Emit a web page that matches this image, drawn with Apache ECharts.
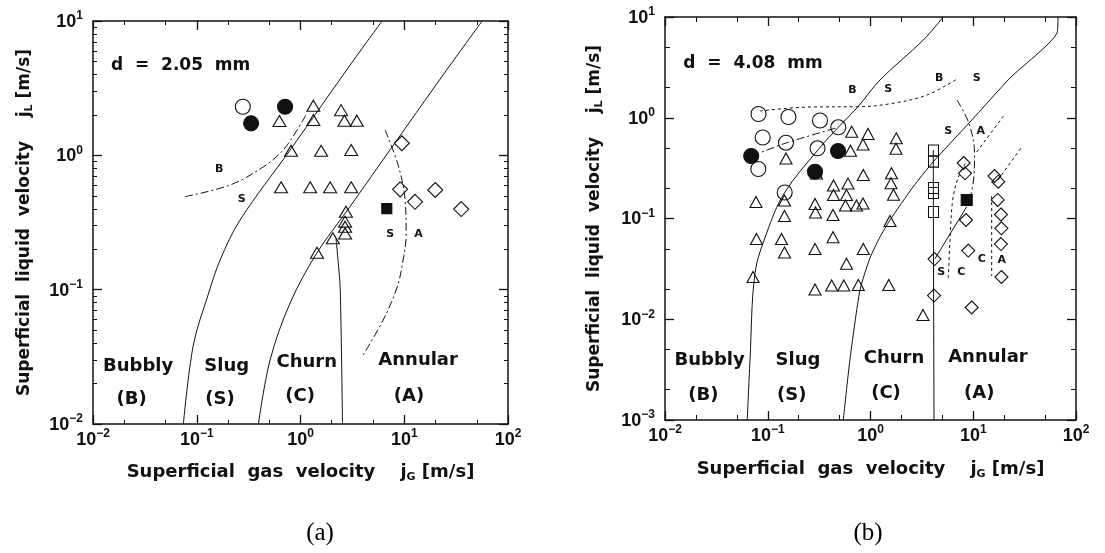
<!DOCTYPE html>
<html>
<head>
<meta charset="utf-8">
<script src="https://cdn.jsdelivr.net/npm/echarts@6/dist/echarts.min.js"></script>
<style>
  html, body { margin: 0; padding: 0; background: #fff; }
  #chart { width: 1105px; height: 553px; }
</style>
</head>
<body>
<div id="chart"></div>
<script>
// ---------------- Panel (a): d = 2.05 mm ----------------
const a_diameter = 'd  =  2.05  mm';
const a_diameterAt = [0.0149, 4.65];

const a_openCircles = [[0.278, 2.30]];
const a_filledCircles = [[0.334, 1.73], [0.71, 2.30]];
const a_triangles = [
  [1.33, 2.34], [0.626, 1.80], [1.33, 1.83], [2.46, 2.17], [2.65, 1.81], [3.49, 1.81],
  [0.81, 1.08], [1.58, 1.08], [3.08, 1.095],
  [0.65, 0.578], [1.24, 0.578], [1.93, 0.578], [3.08, 0.578],
  [2.74, 0.380], [2.69, 0.321], [2.69, 0.294], [2.69, 0.262], [2.05, 0.241], [1.44, 0.188]
];
const a_diamonds = [[9.48, 1.23], [9.13, 0.558], [12.7, 0.451], [19.9, 0.552], [35.4, 0.398]];
const a_filledSquares = [[6.79, 0.401]];

// transition boundaries (solid)
const a_bubblySlug = [[0.0743, 0.01], [0.0927, 0.0387], [0.1285, 0.0912], [0.1678, 0.166], [0.2616, 0.330], [0.794, 1.095], [3.21, 5.04], [6.12, 10]];
const a_slugChurn = [[0.393, 0.01], [0.509, 0.0299], [0.794, 0.0795], [1.436, 0.1873], [2.796, 0.3847], [22.2, 3.70], [56.4, 10]];
const a_churnAnnular = [[2.20, 0.24], [2.41, 0.1045], [2.54, 0.01]];
// observed boundaries (dash-dot)
const a_obsBS = [[0.0771, 0.493], [0.2094, 0.601], [0.4358, 0.818], [0.680, 1.095], [0.927, 1.543], [1.158, 2.065]];
const a_obsSA = [[6.54, 1.543], [8.73, 0.847], [10.2, 0.464], [10.43, 0.255], [9.75, 0.166], [8.54, 0.1045], [6.26, 0.0594], [4.01, 0.0326]];

const a_tags = ['B', 'S', 'S', 'A'];
const a_tagAt = [[0.165, 0.791], [0.2718, 0.470], [7.31, 0.2594], [13.7, 0.2594]];
const a_regions = ['Bubbly', '(B)', 'Slug', '(S)', 'Churn', '(C)', 'Annular', '(A)'];
const a_regionAt = [[0.0272, 0.027], [0.0236, 0.0152], [0.1947, 0.027], [0.1678, 0.0152], [1.15, 0.0286], [0.991, 0.01614], [13.6, 0.0299], [11.1, 0.01614]];

// ---------------- Panel (b): d = 4.08 mm ----------------
const b_diameter = 'd  =  4.08  mm';
const b_diameterAt = [0.01507, 3.47];

const b_openCircles = [
  [0.0813, 1.09], [0.159, 1.017], [0.3225, 0.939], [0.486, 0.804],
  [0.0893, 0.637], [0.1505, 0.5654], [0.305, 0.4975], [0.0809, 0.31], [0.1462, 0.181]
];
const b_filledCircles = [[0.069, 0.417], [0.483, 0.4677], [0.2884, 0.2914]];
const b_triangles = [
  [0.0768, 0.1458], [0.1456, 0.151], [0.1505, 0.394], [0.0777, 0.0626], [0.1361, 0.0626],
  [0.1456, 0.1059], [0.1456, 0.046], [0.0719, 0.02627], [0.2982, 0.2797], [0.2884, 0.1393],
  [0.2916, 0.1147], [0.2884, 0.0498], [0.2884, 0.01974], [0.4365, 0.2127], [0.604, 0.2225],
  [0.4365, 0.1711], [0.584, 0.1711], [0.571, 0.1346], [0.7307, 0.1346], [0.8453, 0.1409],
  [0.4316, 0.1083], [0.4316, 0.0651], [0.851, 0.2703], [0.851, 0.0498], [0.584, 0.0356],
  [0.419, 0.02163], [0.5497, 0.02163], [0.761, 0.02188], [0.656, 0.727], [0.9456, 0.69],
  [0.8453, 0.5427], [0.639, 0.471], [1.783, 0.625], [1.771, 0.4918], [1.601, 0.281],
  [1.583, 0.2236], [1.674, 0.1722], [1.548, 0.0945], [1.507, 0.02188], [3.243, 0.01102]
];
const b_squares = [[4.104, 0.473], [4.104, 0.3663], [4.104, 0.2008], [4.104, 0.179], [4.104, 0.116]];
const b_filledSquares = [[8.64, 0.1527]];
const b_diamonds = [
  [8.07, 0.3556], [8.31, 0.281], [8.50, 0.0966], [8.95, 0.0481], [4.197, 0.0396], [4.15, 0.0172],
  [9.66, 0.01308], [16.1, 0.2642], [17.5, 0.2318], [17.3, 0.1527], [18.6, 0.1096], [18.8, 0.0799],
  [18.6, 0.0558], [18.8, 0.02627]
];

// transition boundaries (solid)
const b_bubblySlug = [[0.0632, 0.001], [0.0672, 0.00394], [0.0752, 0.0288], [0.0977, 0.0718], [0.145, 0.179], [0.3175, 0.4975], [0.486, 0.804], [0.7557, 1.287], [1.237, 2.37], [3.265, 5.91], [5.11, 10]];
const b_slugChurn = [[0.5436, 0.001], [0.630, 0.00394], [0.790, 0.0195], [0.989, 0.0406], [1.237, 0.0655], [1.548, 0.0966], [2.592, 0.2055], [4.086, 0.3663], [9.30, 0.9074], [22.8, 2.48], [65.3, 6.94], [66.8, 10]];
const b_churnAnnular = [[4.086, 0.4785], [4.10, 0.05], [4.15, 0.001]];
const b_slugAnnularSolid = [[4.243, 0.0399], [8.64, 0.131]];
const b_circleLink = [[0.0698, 0.417], [0.1505, 0.5615], [0.486, 0.804]];
// observed boundaries (dash-dot)
const b_obsSA = [[6.95, 1.50], [9.09, 0.877], [10.29, 0.4437], [10.06, 0.241], [9.09, 0.1425]];
// observed boundaries (dotted)
const b_obsBS = [[0.0841, 1.167], [0.2577, 1.279], [0.7557, 1.287], [1.656, 1.391], [3.547, 1.682], [6.95, 2.42]];
const b_obsSC = [[5.72, 0.02567], [5.94, 0.0612], [6.31, 0.1527], [7.11, 0.2523], [8.50, 0.3638]];
const b_obsCA = [[15.12, 0.1672], [15.12, 0.0269]];
const b_obsStub1 = [[10.8, 0.457], [19.6, 1.034]];
const b_obsStub2 = [[17.4, 0.241], [29.2, 0.5011]];

const b_tags = ['B', 'S', 'B', 'S', 'S', 'A', 'S', 'C', 'C', 'A'];
const b_tagAt = [[0.668, 1.873], [1.490, 1.916], [4.67, 2.464], [10.8, 2.464], [5.72, 0.7437], [11.8, 0.7437], [4.875, 0.0291], [7.63, 0.0294], [12.08, 0.0394], [18.9, 0.0383]];
const b_regions = ['Bubbly', '(B)', 'Slug', '(S)', 'Churn', '(C)', 'Annular', '(A)'];
const b_regionAt = [[0.0272, 0.00394], [0.0236, 0.00177], [0.197, 0.00394], [0.171, 0.00177], [1.693, 0.0041], [1.415, 0.00184], [13.9, 0.00419], [11.45, 0.00184]];

// axis ranges and minor tick positions
const X_RANGE = [0.01, 100];
const A_Y_RANGE = [0.01, 10];
const B_Y_RANGE = [0.001, 10];
const minor25 = (lo, hi) => { const v = []; for (let d = lo; d < hi; d *= 10) { v.push(2 * d, 5 * d); } return v; };
const minorAll = (lo, hi) => { const v = []; for (let d = lo; d < hi; d *= 10) { for (let k = 2; k <= 9; k++) v.push(+(k * d).toPrecision(3)); } return v; };

// ---------------- styling helpers ----------------
const INK = '#111111';
const SANS = 'DejaVu Sans';
const NUM = 'Liberation Sans';

function powLabel(v) {
  const e = Math.round(Math.log10(v));
  return '{b|10}{e|' + (e < 0 ? '\u2212' + (-e) : String(e)) + '}';
}
const tickRich = {
  b: { fontFamily: NUM, fontWeight: 'bold', fontSize: 18, color: INK, verticalAlign: 'bottom', lineHeight: 20 },
  e: { fontFamily: NUM, fontWeight: 'bold', fontSize: 12, color: INK, verticalAlign: 'bottom', lineHeight: 12, padding: [0, 0, 9, 0] }
};
function nameRich(size) {
  return {
    n: { fontFamily: SANS, fontWeight: 'bold', fontSize: size, color: INK, verticalAlign: 'bottom', padding: [0, 0, 2, 0] },
    s: { fontFamily: SANS, fontWeight: 'bold', fontSize: 11, color: INK, verticalAlign: 'bottom' }
  };
}
const X_NAME = '{n|Superficial  gas  velocity    j}{s|G}{n| [m/s]}';
const Y_NAME = '{n|Superficial  liquid  velocity    j}{s|L}{n| [m/s]}';

function axisSet(dim, grid, range, minorVals, minorLen, name, nameGap, nameSize) {
  const base = {
    type: 'log', logBase: 10, min: range[0], max: range[1], interval: 1, gridIndex: grid,
    splitLine: { show: false }, minorTick: { show: false },
    axisLine: { show: true, onZero: false, lineStyle: { color: INK, width: 1.5 } }
  };
  const major = { show: true, inside: true, length: 9, lineStyle: { color: INK, width: 1.3 } };
  const minor = { show: true, inside: true, length: minorLen, customValues: minorVals, lineStyle: { color: INK, width: 1 } };
  const near = dim === 'x' ? 'bottom' : 'left';
  const far = dim === 'x' ? 'top' : 'right';
  return [
    Object.assign({}, base, {
      position: near, axisTick: major,
      axisLabel: { show: true, margin: dim === 'x' ? 5 : 10, formatter: powLabel, rich: tickRich },
      name: name, nameLocation: 'middle', nameGap: nameGap, nameRotate: dim === 'x' ? 0 : 90,
      nameTextStyle: { rich: nameRich(nameSize) }
    }),
    Object.assign({}, base, { position: near, axisLine: { show: false }, axisTick: minor, axisLabel: { show: false } }),
    Object.assign({}, base, { position: far, axisTick: major, axisLabel: { show: false } }),
    Object.assign({}, base, { position: far, axisLine: { show: false }, axisTick: minor, axisLabel: { show: false } })
  ];
}

const hollow = 'rgba(255,255,255,0)';
function marks(ax, data, symbol, size, filled) {
  return {
    type: 'scatter', xAxisIndex: ax, yAxisIndex: ax, data: data, symbol: symbol, symbolSize: size,
    itemStyle: { color: filled ? INK : hollow, borderColor: INK, borderWidth: 1.1, opacity: 1 },
    z: 3, silent: true, animation: false
  };
}
function curve(ax, data, dash, smooth) {
  return {
    type: 'line', xAxisIndex: ax, yAxisIndex: ax, data: data, showSymbol: false, symbol: 'none',
    smooth: smooth === undefined ? 0.35 : smooth,
    lineStyle: { color: INK, width: 1, type: dash || 'solid', opacity: 1 },
    z: 4, silent: true, animation: false
  };
}
function texts(ax, names, at, style) {
  return {
    type: 'scatter', xAxisIndex: ax, yAxisIndex: ax, symbolSize: 1,
    itemStyle: { color: 'rgba(0,0,0,0)', borderWidth: 0, opacity: 1 },
    data: names.map((t, i) => ({ name: t, value: at[i] })),
    label: Object.assign({
      show: true, position: 'inside', formatter: '{b}', color: INK, opacity: 1,
      textBorderWidth: 0, fontFamily: SANS, fontWeight: 'bold'
    }, style),
    z: 5, silent: true, animation: false
  };
}

const DASHDOT = [8, 3, 2, 3];
const DOTTED = [3, 3];

const xAxes = [].concat(
  axisSet('x', 0, X_RANGE, minor25(0.01, 100), 4, X_NAME, 39, 18),
  axisSet('x', 1, X_RANGE, minor25(0.01, 100), 5, X_NAME, 40, 18)
);
const yAxes = [].concat(
  axisSet('y', 0, A_Y_RANGE, minorAll(0.01, 10), 4, Y_NAME, 58, 17),
  axisSet('y', 1, B_Y_RANGE, minor25(0.001, 10), 5, Y_NAME, 60, 17)
);

const A = 0, B = 4; // axis index of each panel's primary axes

const series = [
  // panel (a)
  curve(A, a_bubblySlug), curve(A, a_slugChurn), curve(A, a_churnAnnular, 'solid', 0.2),
  curve(A, a_obsBS, DASHDOT), curve(A, a_obsSA, DASHDOT),
  marks(A, a_openCircles, 'circle', 15, false),
  marks(A, a_filledCircles, 'circle', 15, true),
  marks(A, a_triangles, 'triangle', [13, 11], false),
  marks(A, a_diamonds, 'diamond', [15, 15], false),
  marks(A, a_filledSquares, 'rect', [10, 10], true),
  texts(A, a_tags, a_tagAt, { fontSize: 11 }),
  texts(A, a_regions, a_regionAt, { fontSize: 18 }),
  texts(A, [a_diameter], [a_diameterAt], { fontSize: 17, align: 'left' }),
  // panel (b)
  curve(B, b_bubblySlug), curve(B, b_slugChurn, 'solid', 0.2), curve(B, b_churnAnnular, 'solid', 0),
  curve(B, b_slugAnnularSolid, 'solid', 0), curve(B, b_circleLink, DASHDOT, 0.2),
  curve(B, b_obsSA, DASHDOT), curve(B, b_obsBS, DOTTED), curve(B, b_obsSC, DOTTED),
  curve(B, b_obsCA, DOTTED, 0), curve(B, b_obsStub1, DOTTED, 0), curve(B, b_obsStub2, DOTTED, 0),
  marks(B, b_openCircles, 'circle', 15, false),
  marks(B, b_filledCircles, 'circle', 15, true),
  marks(B, b_triangles, 'triangle', [12, 11], false),
  marks(B, b_squares, 'rect', [10, 11], false),
  marks(B, b_filledSquares, 'rect', [11, 11], true),
  marks(B, b_diamonds, 'diamond', [13, 13], false),
  texts(B, b_tags, b_tagAt, { fontSize: 11 }),
  texts(B, b_regions, b_regionAt, { fontSize: 18 }),
  texts(B, [b_diameter], [b_diameterAt], { fontSize: 17, align: 'left' })
];

const chart = echarts.init(document.getElementById('chart'), null, { renderer: 'canvas' });
chart.setOption({
  backgroundColor: '#ffffff',
  animation: false,
  grid: [
    { left: 93, top: 21, width: 415, height: 403, containLabel: false, outerBoundsMode: 'none' },
    { left: 665, top: 17, width: 411, height: 403, containLabel: false, outerBoundsMode: 'none' }
  ],
  xAxis: xAxes,
  yAxis: yAxes,
  series: series,
  graphic: [
    { type: 'text', x: 320, y: 533, style: { text: '(a)', font: '25px "Liberation Serif"', fill: '#000', align: 'center', verticalAlign: 'middle' } },
    { type: 'text', x: 868, y: 533, style: { text: '(b)', font: '25px "Liberation Serif"', fill: '#000', align: 'center', verticalAlign: 'middle' } }
  ]
});
</script>
</body>
</html>
